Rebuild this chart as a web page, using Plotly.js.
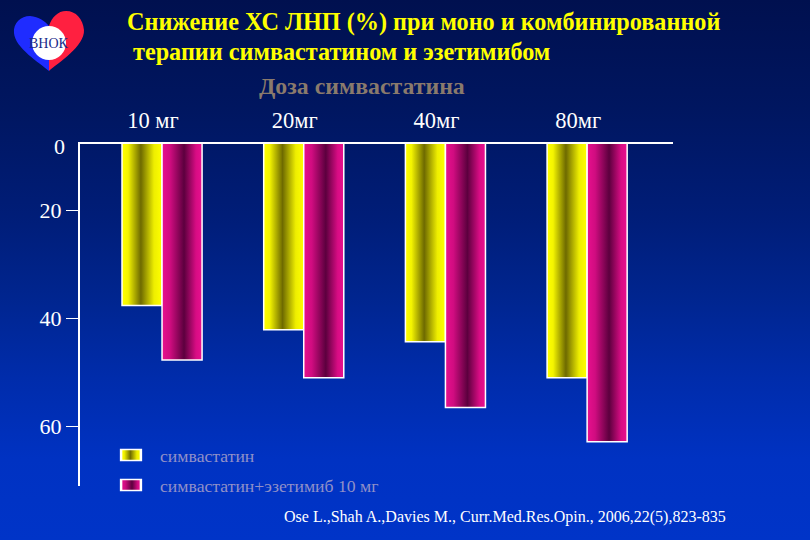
<!DOCTYPE html>
<html><head><meta charset="utf-8">
<script src="https://cdn.plot.ly/plotly-3.0.1.min.js"></script>
<style>
html,body{margin:0;padding:0;width:810px;height:540px;overflow:hidden;
background:linear-gradient(to bottom,#00104f 0%,#001660 20%,#001d78 40%,#00258f 55%,#002cab 70%,#0032c2 85%,#0034c8 100%);}
#chart{width:810px;height:540px;}
</style>
</head><body><div id="chart"></div>
<script>
const doses = ['10 мг', '20мг', '40мг', '80мг'];
const simva = [37.6, 42.1, 44.3, 51.0];
const combo = [47.7, 51.0, 56.5, 62.8];
const seriesNames = ['симвастатин', 'симвастатин+эзетимиб 10 мг'];
const yTickVals = [20, 40, 60];
const yTickText = ['20', '40', '60'];
const yTopLabel = '0';
const titleLines = ['Снижение ХС ЛНП (%) при моно и комбинированной', '&nbsp;терапии симвастатином и эзетимибом'];
const subTitle = 'Доза симвастатина';
const citation = 'Ose L.,Shah A.,Davies M., Curr.Med.Res.Opin., 2006,22(5),823-835';
const logoText = 'ВНОК';

const xIdx = doses.map((d, i) => i);
const SERIF = 'Liberation Serif, Times New Roman, serif';

// plot area in pixels: left 80, right 673, top 144, bottom 486
const L = 80, R = 673, T = 144, B = 486;
const px = x => (x - L) / (R - L);
const py = y => (B - y) / (B - T);
function path(pts) {
  return pts.map(c => c[0] + c.slice(1).map(p => px(p[0]).toFixed(4) + ',' + py(p[1]).toFixed(4)).join(' ')).join(' ') + ' Z';
}

const traces = [
  {type: 'bar', x: xIdx, y: simva, name: seriesNames[0], legendgroup: 'a',
   marker: {color: '#d8d800', line: {color: '#ffffff', width: 1.5}}, hoverinfo: 'skip'},
  {type: 'bar', x: xIdx, y: combo, name: seriesNames[1], legendgroup: 'b',
   marker: {color: '#c0107a', line: {color: '#ffffff', width: 1.5}}, hoverinfo: 'skip'}
];

const bluePath = path([['M', [49, 71]], ['C', [40, 63], [15, 48], [14, 33]], ['C', [13, 23], [21, 16], [30, 16]], ['C', [39, 17], [45, 21], [49, 26]]]);
const redPath = path([['M', [49, 71]], ['C', [58, 63], [85, 46], [84, 30]], ['C', [83, 19], [76, 11], [66, 11]], ['C', [58, 11], [52, 17], [49, 26]]]);

const layout = {
  width: 810, height: 540,
  margin: {l: L, r: 810 - R, t: T, b: 540 - B, pad: 0},
  paper_bgcolor: 'rgba(0,0,0,0)', plot_bgcolor: 'rgba(0,0,0,0)',
  barmode: 'group', bargap: 0.435, bargroupgap: 0,
  showlegend: true,
  legend: {x: px(112), y: py(437), xanchor: 'left', yanchor: 'top', bgcolor: 'rgba(0,0,0,0)',
           itemwidth: 38,
           font: {family: SERIF, size: 17.7, color: '#9090c8'}, traceorder: 'grouped', tracegroupgap: 4},
  xaxis: {range: [-0.579, 3.606], side: 'top', tickvals: xIdx, ticktext: doses, ticks: '',
          showline: true, linecolor: '#ffffff', linewidth: 2, showgrid: false, zeroline: false,
          ticklabelshift: -9, ticklabelstandoff: 5,
          tickfont: {family: SERIF, size: 22.5, color: '#ffffff'}, fixedrange: true},
  yaxis: {range: [71, 7.74], tickvals: yTickVals, ticktext: yTickText, ticks: 'outside', ticklen: 12,
          tickwidth: 1.5, tickcolor: '#ffffff', showline: true, linecolor: '#ffffff', linewidth: 2,
          showgrid: false, zeroline: false, ticklabelstandoff: 0,
          tickfont: {family: SERIF, size: 22, color: '#ffffff'}, fixedrange: true},
  shapes: [
    {type: 'path', xref: 'paper', yref: 'paper', path: bluePath, fillcolor: '#1f2cff', line: {width: 0}, layer: 'above'},
    {type: 'path', xref: 'paper', yref: 'paper', path: redPath, fillcolor: '#ff2040', line: {width: 0}, layer: 'above'},
    {type: 'circle', xref: 'paper', yref: 'paper', x0: px(32), x1: px(66), y0: py(60), y1: py(26), fillcolor: '#ffffff', line: {width: 0}, layer: 'above'}
  ],
  annotations: [
    {text: titleLines[0], xref: 'paper', yref: 'paper', x: px(125), y: py(22), xanchor: 'left', yanchor: 'middle', showarrow: false,
     font: {family: SERIF, size: 24.2, color: '#ffff00', weight: 'bold'}},
    {text: titleLines[1], xref: 'paper', yref: 'paper', x: px(125), y: py(52), xanchor: 'left', yanchor: 'middle', showarrow: false,
     font: {family: SERIF, size: 24.2, color: '#ffff00', weight: 'bold'}},
    {text: subTitle, xref: 'paper', yref: 'paper', x: px(362), y: py(86), xanchor: 'center', yanchor: 'middle', showarrow: false,
     font: {family: SERIF, size: 23.8, color: '#8a7a6c', weight: 'bold'}},
    {text: yTopLabel, xref: 'paper', yref: 'paper', x: px(67), y: py(146), xanchor: 'right', yanchor: 'middle', showarrow: false,
     font: {family: SERIF, size: 22, color: '#ffffff'}},
    {text: citation, xref: 'paper', yref: 'paper', x: px(282), y: py(517), xanchor: 'left', yanchor: 'middle', showarrow: false,
     font: {family: SERIF, size: 16, color: '#ffffff'}},
    {text: logoText, xref: 'paper', yref: 'paper', x: px(49), y: py(43), xanchor: 'center', yanchor: 'middle', showarrow: false,
     font: {family: SERIF, size: 14, color: '#1a2a8a'}}
  ]
};

const gd = document.getElementById('chart');
Plotly.newPlot(gd, traces, layout, {staticPlot: true, displayModeBar: false}).then(() => {
  const NS = 'http://www.w3.org/2000/svg';
  const svg = gd.querySelector('.main-svg');
  let defs = svg.querySelector('defs');
  if (!defs) { defs = document.createElementNS(NS, 'defs'); svg.insertBefore(defs, svg.firstChild); }
  function grad(id, stops) {
    const g = document.createElementNS(NS, 'linearGradient');
    g.setAttribute('id', id); g.setAttribute('x1', '0'); g.setAttribute('x2', '1'); g.setAttribute('y1', '0'); g.setAttribute('y2', '0');
    stops.forEach(s => { const st = document.createElementNS(NS, 'stop'); st.setAttribute('offset', s[0]); st.setAttribute('stop-color', s[1]); g.appendChild(st); });
    defs.appendChild(g);
  }
  grad('gY', [['0', '#ffff00'], ['0.15', '#f4f400'], ['0.47', '#6e6a00'], ['0.8', '#eeee00'], ['1', '#ffff00']]);
  grad('gM', [['0', '#e8108e'], ['0.2', '#d00c80'], ['0.55', '#5c003e'], ['0.85', '#d80c84'], ['1', '#e8108e']]);
  const ids = ['gY', 'gM'];
  gd.querySelectorAll('.barlayer .trace').forEach((t, i) => {
    t.querySelectorAll('path').forEach(p => { p.style.fill = 'url(#' + ids[i] + ')'; });
  });
  gd.querySelectorAll('.legend .traces').forEach((t, i) => {
    t.querySelectorAll('.legendpoints path').forEach(p => {
      p.style.fill = 'url(#' + ids[i] + ')';
      const tr = p.getAttribute('transform') || '';
      p.setAttribute('transform', tr + ' translate(-5,0) scale(1.65,0.92)');
    });
  });
});
</script>
</body></html>
